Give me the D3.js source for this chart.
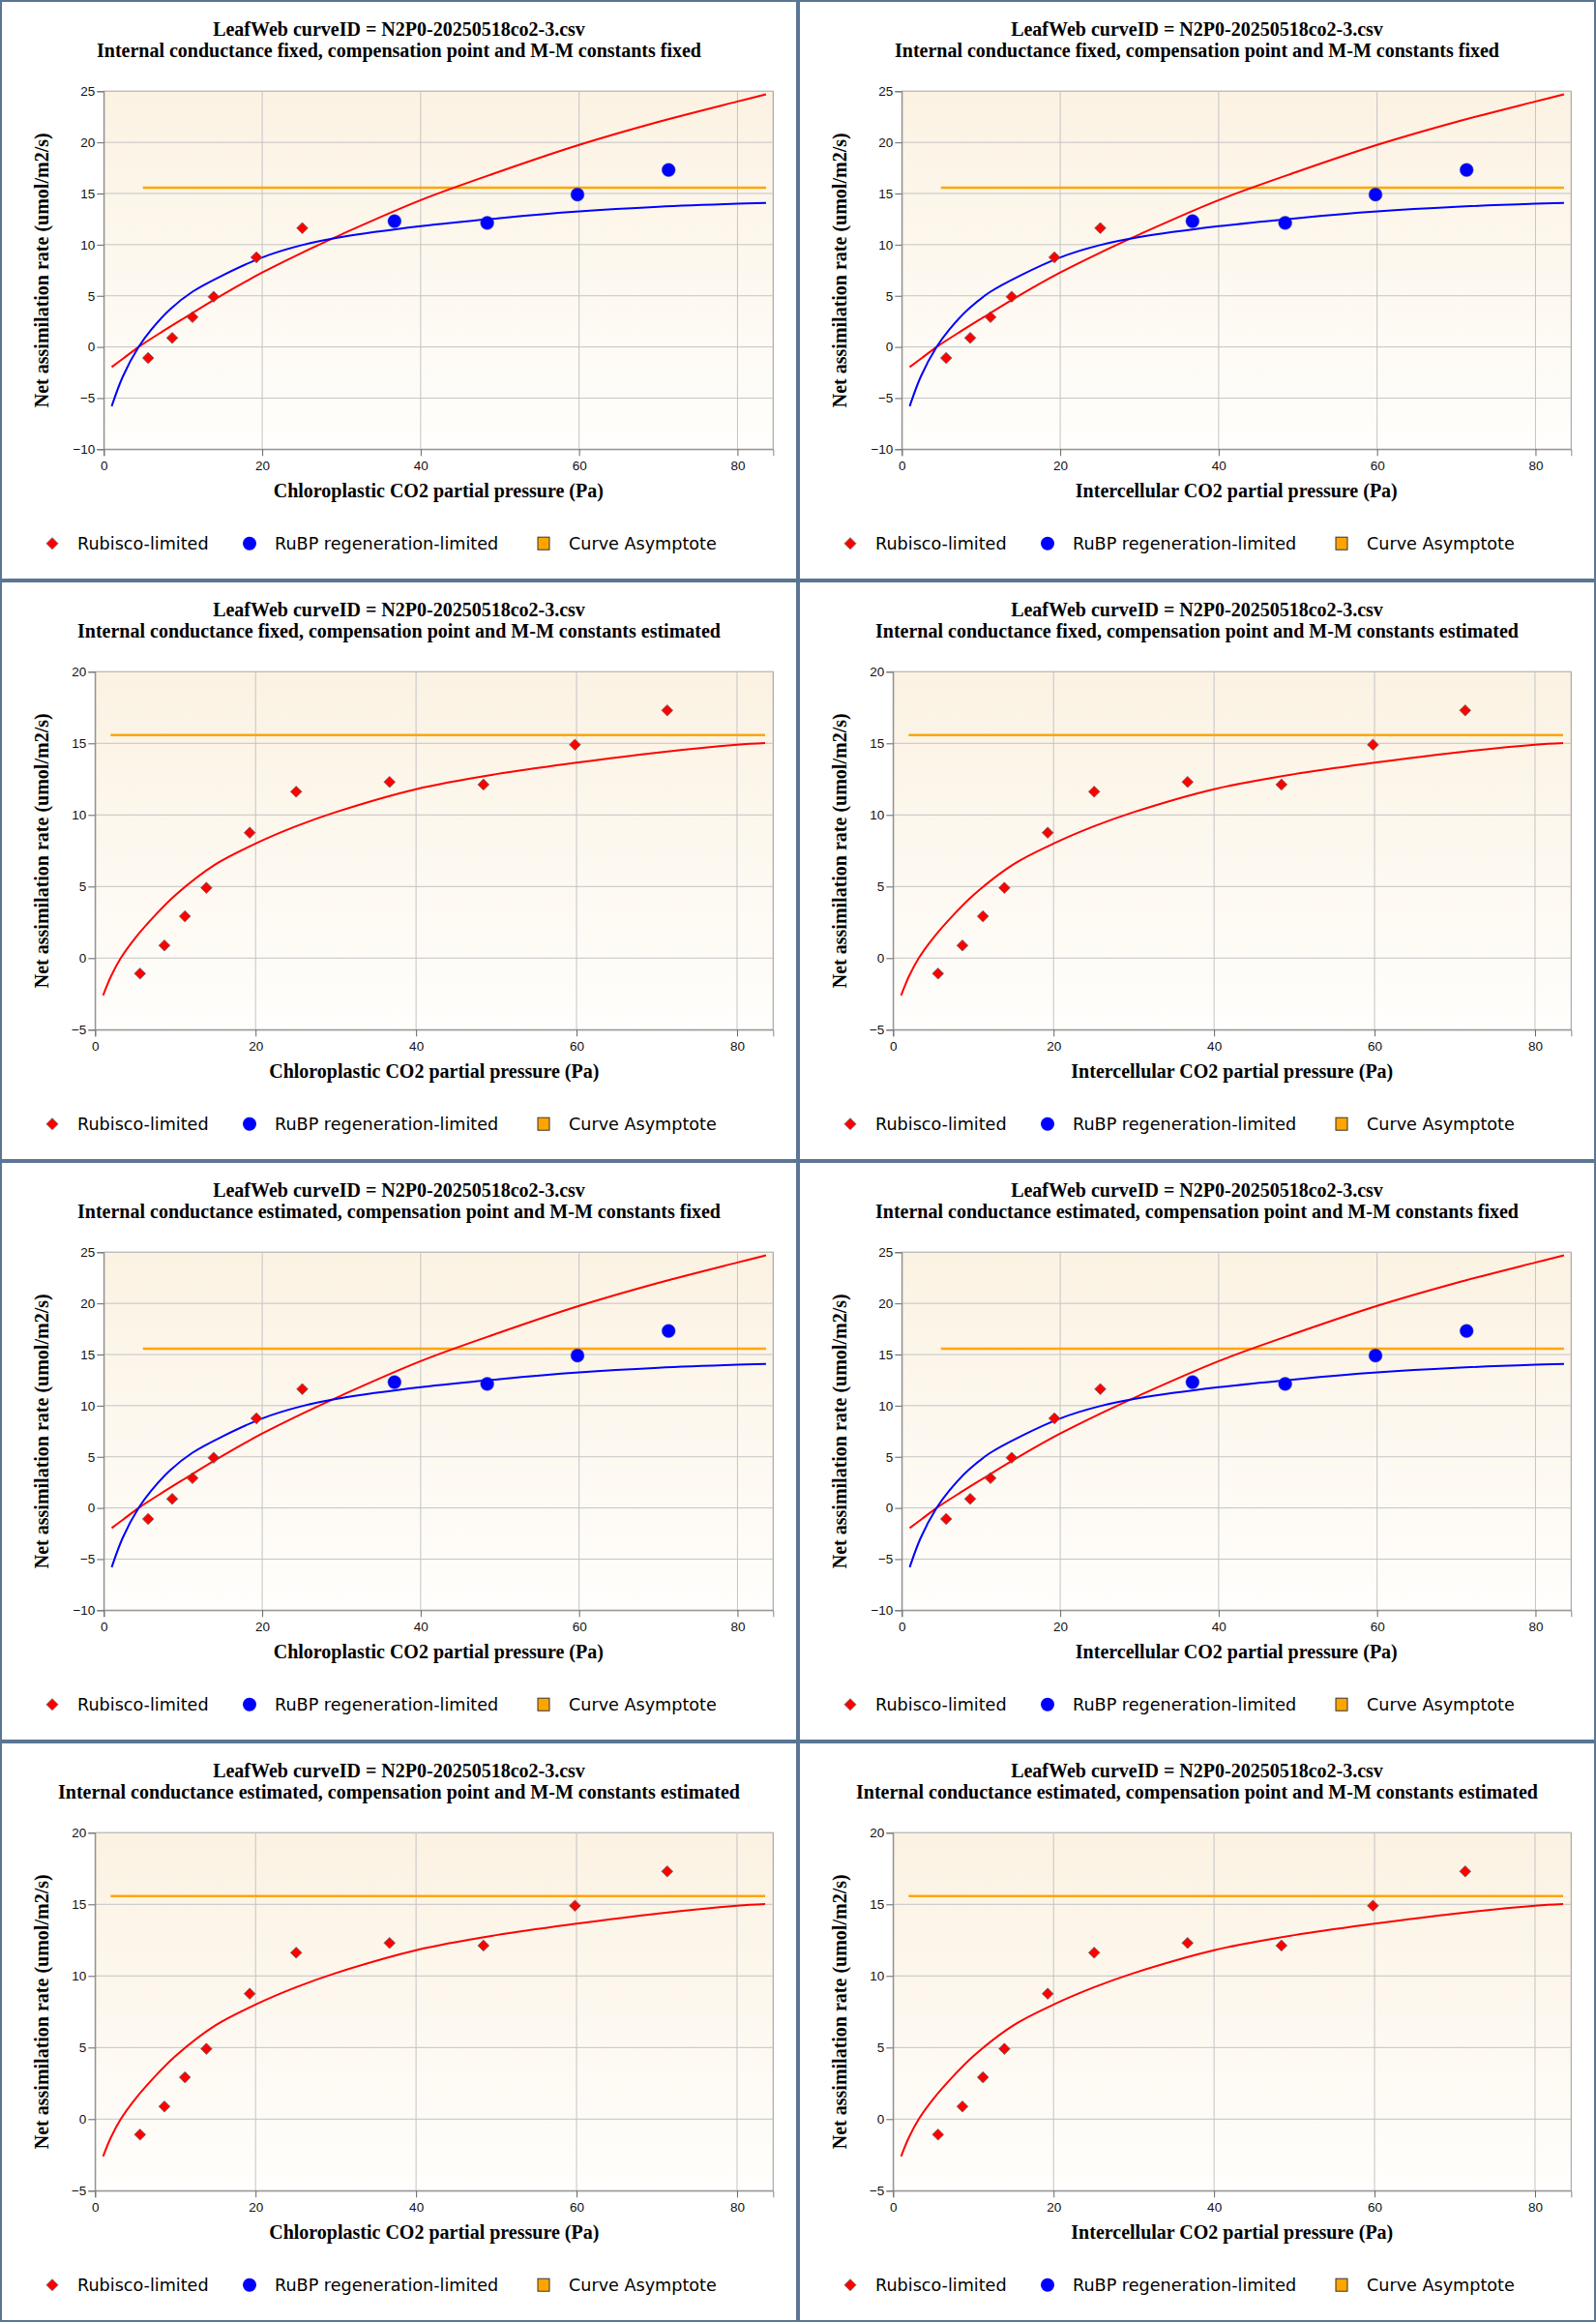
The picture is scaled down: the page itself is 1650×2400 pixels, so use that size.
<!DOCTYPE html>
<html>
<head>
<meta charset="utf-8">
<script src="https://cdn.jsdelivr.net/npm/d3@7"></script>
<style>
  body { margin: 0; background: #fff; }
  #chart svg { display: block; }
</style>
</head>
<body>
<div id="chart"></div>
<script>
// measured A/Ci points (same in every panel)
const co2Values = [5.6, 8.64, 11.2, 13.87, 19.27, 25.06, 36.7, 48.4, 59.8, 71.3];
const assimValues = [-1.08, 0.88, 2.92, 4.91, 8.76, 11.62, 12.3, 12.12, 14.9, 17.3];
// limitation per point: split between the two limitations, or all rubisco
const limitsSplit = ["rubisco", "rubisco", "rubisco", "rubisco", "rubisco", "rubisco", "rubp", "rubp", "rubp", "rubp"];
const limitsAllRubisco = ["rubisco", "rubisco", "rubisco", "rubisco", "rubisco", "rubisco", "rubisco", "rubisco", "rubisco", "rubisco"];

// fitted curves (M-M constants fixed)
const rubiscoFixedX = [1, 2.5, 4.4, 7.5, 10, 15, 20, 25, 30, 40, 50, 60, 70, 80, 83.6];
const rubiscoFixedY = [-1.97, -1.1, 0, 1.55, 2.75, 5.1, 7.27, 9.2, 11.0, 14.35, 17.15, 19.75, 22.0, 24.0, 24.7];
const rubpFixedX = [1, 2.4, 4.4, 6, 8.4, 11.2, 15, 20, 25, 30, 40, 50, 60, 70, 80, 83.6];
const rubpFixedY = [-5.8, -2.9, 0, 1.7, 3.7, 5.4, 7.0, 8.75, 9.95, 10.74, 11.8, 12.6, 13.25, 13.7, 14.0, 14.08];
// fitted curve (M-M constants estimated)
const rubiscoEstX = [1, 2, 3.2, 5, 7.5, 10, 15, 20, 25, 30, 40, 50, 60, 70, 80, 83.5];
const rubiscoEstY = [-2.6, -1.25, 0, 1.4, 3.0, 4.4, 6.55, 8.0, 9.2, 10.2, 11.8, 12.85, 13.65, 14.35, 14.9, 15.02];

// asymptote
const asymptoteValue = 15.57;
const asymptoteFixedX = [4.94, 83.6];
const asymptoteEstX = [1.93, 83.5];

// axes
const xDomain = [0, 84.5];
const xTicks = [0, 20, 40, 60, 80];
const yTicksWide = [-10, -5, 0, 5, 10, 15, 20, 25];
const yTicksNarrow = [-5, 0, 5, 10, 15, 20];

// texts
const titleLine = "LeafWeb curveID = N2P0-20250518co2-3.csv";
const subtitles = [
  "Internal conductance fixed, compensation point and M-M constants fixed",
  "Internal conductance fixed, compensation point and M-M constants estimated",
  "Internal conductance estimated, compensation point and M-M constants fixed",
  "Internal conductance estimated, compensation point and M-M constants estimated",
];
const xLabels = ["Chloroplastic CO2 partial pressure (Pa)", "Intercellular CO2 partial pressure (Pa)"];
const yLabel = "Net assimilation rate (umol/m2/s)";
const legendLabels = ["Rubisco-limited", "RuBP regeneration-limited", "Curve Asymptote"];

const panelW = 825;
const panelH = 600;

const svg = d3
  .select("#chart")
  .append("svg")
  .attr("width", panelW * 2)
  .attr("height", panelH * 4);

// background gradient of the plot area
const defs = svg.append("defs");
const grad = defs
  .append("linearGradient")
  .attr("id", "plotBg")
  .attr("x1", 0).attr("y1", 0).attr("x2", 0).attr("y2", 1);
grad.append("stop").attr("offset", "0%").attr("stop-color", "#fbf2e2");
grad.append("stop").attr("offset", "100%").attr("stop-color", "#fffefc");

svg.append("rect").attr("width", panelW * 2).attr("height", panelH * 4).attr("fill", "#fff");

function diamondPath(r) {
  return `M0,${-r}L${r},0L0,${r}L${-r},0Z`;
}

function drawPanel(row, col) {
  const estimated = row % 2 === 1; // M-M constants estimated
  const g = svg.append("g").attr("transform", `translate(${col * panelW},${row * panelH})`);

  const left = estimated ? 98.3 : 107.3;
  const top = 94.3, right = 799.3, bottom = 464.3;

  const x = d3.scaleLinear().domain(xDomain).range([left, right]);
  const yTicks = estimated ? yTicksNarrow : yTicksWide;
  const y = d3.scaleLinear().domain([yTicks[0], yTicks[yTicks.length - 1]]).range([bottom, top]);

  // plot background
  g.append("rect")
    .attr("x", left).attr("y", top)
    .attr("width", right - left).attr("height", bottom - top)
    .attr("fill", "url(#plotBg)")
    .attr("stroke", "#999").attr("stroke-width", 1);

  // grid
  g.append("g")
    .selectAll("line")
    .data(yTicks)
    .join("line")
    .attr("x1", left).attr("x2", right)
    .attr("y1", (d) => y(d)).attr("y2", (d) => y(d))
    .attr("stroke", "#c4c4c4");
  g.append("g")
    .selectAll("line")
    .data(xTicks.slice(1))
    .join("line")
    .attr("y1", top).attr("y2", bottom)
    .attr("x1", (d) => x(d)).attr("x2", (d) => x(d))
    .attr("stroke", "#c4c4c4");

  // axes
  const xAxis = g.append("g")
    .attr("transform", `translate(0,${bottom})`)
    .call(d3.axisBottom(x).tickValues(xTicks).tickSize(7).tickPadding(5));
  const yAxis = g.append("g")
    .attr("transform", `translate(${left},0)`)
    .call(d3.axisLeft(y).tickValues(yTicks).tickSize(7).tickPadding(2));
  [xAxis, yAxis].forEach((a) => {
    a.select(".domain").attr("stroke", "#888");
    a.selectAll(".tick line").attr("stroke", "#666");
    a.selectAll("text")
      .attr("fill", "#111")
      .style("font-family", "'Liberation Sans', Arial, sans-serif")
      .style("font-size", "13.5px");
  });

  // curves
  const line = d3.line().x((d) => x(d[0])).y((d) => y(d[1])).curve(d3.curveCatmullRom.alpha(0.5));
  const asymX = estimated ? asymptoteEstX : asymptoteFixedX;
  g.append("path")
    .datum(asymX.map((v) => [v, asymptoteValue]))
    .attr("d", line)
    .attr("fill", "none").attr("stroke", "#ffa500").attr("stroke-width", 2.5);

  if (estimated) {
    g.append("path")
      .datum(rubiscoEstX.map((v, i) => [v, rubiscoEstY[i]]))
      .attr("d", line)
      .attr("fill", "none").attr("stroke", "#ff0000").attr("stroke-width", 2);
  } else {
    g.append("path")
      .datum(rubiscoFixedX.map((v, i) => [v, rubiscoFixedY[i]]))
      .attr("d", line)
      .attr("fill", "none").attr("stroke", "#ff0000").attr("stroke-width", 2);
    g.append("path")
      .datum(rubpFixedX.map((v, i) => [v, rubpFixedY[i]]))
      .attr("d", line)
      .attr("fill", "none").attr("stroke", "#0000ff").attr("stroke-width", 2);
  }

  // points
  const limits = estimated ? limitsAllRubisco : limitsSplit;
  const pts = co2Values.map((v, i) => ({ x: v, y: assimValues[i], lim: limits[i] }));
  g.append("g")
    .selectAll("path")
    .data(pts.filter((d) => d.lim === "rubisco"))
    .join("path")
    .attr("transform", (d) => `translate(${x(d.x)},${y(d.y)})`)
    .attr("d", diamondPath(5.8))
    .attr("fill", "#ff0000").attr("stroke", "#666").attr("stroke-width", 0.8);
  g.append("g")
    .selectAll("circle")
    .data(pts.filter((d) => d.lim === "rubp"))
    .join("circle")
    .attr("cx", (d) => x(d.x)).attr("cy", (d) => y(d.y))
    .attr("r", 6.9)
    .attr("fill", "#0000ff").attr("stroke", "#3344aa").attr("stroke-width", 0.5);

  // titles
  const serif = "'Liberation Serif', 'Times New Roman', serif";
  g.append("text")
    .attr("x", panelW / 2).attr("y", 37)
    .attr("text-anchor", "middle")
    .style("font-family", serif).style("font-weight", "bold").style("font-size", "20px")
    .text(titleLine);
  g.append("text")
    .attr("x", panelW / 2).attr("y", 59)
    .attr("text-anchor", "middle")
    .style("font-family", serif).style("font-weight", "bold").style("font-size", "20px")
    .text(subtitles[row]);
  g.append("text")
    .attr("x", (left + right) / 2).attr("y", 514)
    .attr("text-anchor", "middle")
    .style("font-family", serif).style("font-weight", "bold").style("font-size", "20px")
    .text(xLabels[col]);
  g.append("text")
    .attr("transform", `translate(49.5,${(top + bottom) / 2}) rotate(-90)`)
    .attr("text-anchor", "middle")
    .style("font-family", serif).style("font-weight", "bold").style("font-size", "20px")
    .text(yLabel);

  // legend
  const ly = 561.7;
  const legend = g.append("g").style("font-family", "'DejaVu Sans', Verdana, sans-serif").style("font-size", "17.6px");
  legend.append("path")
    .attr("transform", `translate(54,${ly})`)
    .attr("d", diamondPath(6))
    .attr("fill", "#ff0000").attr("stroke", "#666").attr("stroke-width", 0.8);
  legend.append("circle")
    .attr("cx", 258).attr("cy", ly).attr("r", 7)
    .attr("fill", "#0000ff");
  legend.append("rect")
    .attr("x", 556).attr("y", ly - 6.5).attr("width", 12).attr("height", 13)
    .attr("fill", "#ffa500").attr("stroke", "#333").attr("stroke-width", 1);
  [80, 284, 588].forEach((lx, i) => {
    legend.append("text")
      .attr("x", lx).attr("y", ly + 6.5)
      .attr("fill", "#000")
      .text(legendLabels[i]);
  });

  // panel frame
  g.append("rect")
    .attr("x", 0).attr("y", 0)
    .attr("width", panelW).attr("height", panelH)
    .attr("fill", "none").attr("stroke", "#5b7594").attr("stroke-width", 4);
}

for (let row = 0; row < 4; row++) {
  for (let col = 0; col < 2; col++) {
    drawPanel(row, col);
  }
}
</script>
</body>
</html>
